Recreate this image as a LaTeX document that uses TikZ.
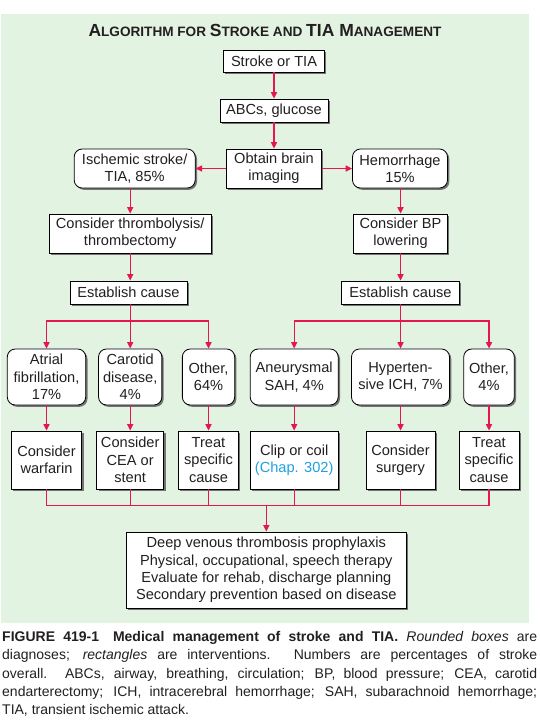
\documentclass[tikz,border=0pt]{standalone}
\usepackage{fontspec}
\setmainfont{Liberation Sans}
\newfontfamily\capfont[FakeStretch=1.0]{Liberation Sans}
\usetikzlibrary{arrows.meta,shadows}
\definecolor{bggreen}{RGB}{226,243,226}
\definecolor{arrred}{RGB}{230,22,80}
\definecolor{txt}{RGB}{35,31,32}
\definecolor{chapblue}{RGB}{30,160,225}
\newcommand\bxf{\fontsize{14.6}{17.4}\selectfont}
\newcommand\bigc[1]{{\fontsize{17.5}{19}\selectfont #1}}
\newcommand\smc[1]{{\fontsize{13.6}{15}\selectfont #1}}
\begin{document}
\begin{tikzpicture}[x=1pt,y=-1pt,
  box/.style={draw=black,line width=0.8pt,fill=white,align=center,inner sep=0pt,font=\bxf,text=txt,
    drop shadow={shadow xshift=1.8pt,shadow yshift=-1.8pt,fill=black!55,opacity=1}},
  rbox/.style={box,rounded corners=8pt},
  ln/.style={draw=arrred,line width=1.4pt},
  arr/.style={ln,-{Triangle[length=6.5pt,width=6pt]}},
]
\useasboundingbox (0,0) rectangle (539,726);
\fill[bggreen] (1,14) rectangle (529,623);

\node[font=\bfseries,text=txt,anchor=base] (title) at (265,36.5)
  {\bigc{A}\smc{LGORITHM FOR }\bigc{S}\smc{TROKE AND }\bigc{TIA M}\smc{ANAGEMENT}};

\node[box,minimum width=101pt,minimum height=22pt] (stroke) at (274,61) {Stroke or TIA};
\node[box,minimum width=108pt,minimum height=23pt] (abc) at (274,110.5) {ABCs, glucose};
\node[box,minimum width=95pt,minimum height=39pt] (img) at (274,168.5) {Obtain brain\\imaging};
\node[rbox,minimum width=121pt,minimum height=39pt] (isch) at (134.7,168.5) {Ischemic stroke/\\TIA, 85\%};
\node[rbox,minimum width=95pt,minimum height=39pt] (hem) at (400,168.5) {Hemorrhage\\15\%};
\node[box,minimum width=162pt,minimum height=39pt] (thr) at (130.2,233.5) {Consider thrombolysis/\\thrombectomy};
\node[box,minimum width=94pt,minimum height=39pt] (bp) at (400.5,233.5) {Consider BP\\lowering};
\node[box,minimum width=117pt,minimum height=23pt] (estL) at (128.4,292.5) {Establish cause};
\node[box,minimum width=118pt,minimum height=23pt] (estR) at (400.5,292.5) {Establish cause};

\node[rbox,minimum width=78.4pt,minimum height=56pt] (atrial) at (46.5,377) {Atrial\\fibrillation,\\17\%};
\node[rbox,minimum width=63.3pt,minimum height=56pt] (carotid) at (130.2,377) {Carotid\\disease,\\4\%};
\node[rbox,minimum width=52.3pt,minimum height=56pt] (oth1) at (208.5,377) {Other,\\64\%};
\node[rbox,minimum width=88pt,minimum height=56pt] (aneu) at (294.2,377) {Aneurysmal\\SAH, 4\%};
\node[rbox,minimum width=98pt,minimum height=56pt] (hyp) at (400.5,377) {Hyperten-\\sive ICH, 7\%};
\node[rbox,minimum width=50.6pt,minimum height=56pt] (oth2) at (489,377) {Other,\\4\%};

\node[box,minimum width=70.5pt,minimum height=58pt] (warf) at (46.5,460) {Consider\\warfarin};
\node[box,minimum width=67pt,minimum height=58pt] (cea) at (130.2,460) {Consider\\CEA or\\stent};
\node[box,minimum width=60.2pt,minimum height=58pt] (trt1) at (208.5,460) {Treat\\specific\\cause};
\node[box,minimum width=87.4pt,minimum height=58pt] (clip) at (294.2,460) {Clip or coil\\\textcolor{chapblue}{(Chap. 302)}};
\node[box,minimum width=68.8pt,minimum height=58pt] (surg) at (400.5,460) {Consider\\surgery};
\node[box,minimum width=60.2pt,minimum height=58pt] (trt2) at (489,460) {Treat\\specific\\cause};

\node[box,minimum width=279.4pt,minimum height=76pt] (final) at (266.3,570)
  {Deep venous thrombosis prophylaxis\\Physical, occupational, speech therapy\\Evaluate for rehab, discharge planning\\Secondary prevention based on disease};

\draw[arr] (stroke) -- (abc);
\draw[arr] (abc) -- (img);
\draw[arr] (img) -- (isch);
\draw[arr] (img) -- (hem);
\draw[arr] (isch.south -| thr.north) -- (thr.north);
\draw[arr] (hem.south -| bp.north) -- (bp.north);
\draw[arr] (thr.south) -- (thr.south |- estL.north);
\draw[arr] (bp.south) -- (bp.south |- estR.north);

\coordinate (bL) at (130.2,321);
\coordinate (bR) at (400.5,321);
\draw[ln] (thr.south |- estL.south) -- (bL);
\draw[ln] (estR.south) -- (bR);
\draw[arr] (bL) -| (atrial.north);
\draw[arr] (bL) -- (carotid.north);
\draw[arr] (bL) -| (oth1.north);
\draw[arr] (bR) -| (aneu.north);
\draw[arr] (bR) -- (hyp.north);
\draw[arr] (bR) -| (oth2.north);

\draw[arr] (atrial) -- (warf);
\draw[arr] (carotid) -- (cea);
\draw[arr] (oth1) -- (trt1);
\draw[arr] (aneu) -- (clip);
\draw[arr] (hyp) -- (surg);
\draw[arr] (oth2) -- (trt2);

\coordinate (m) at (266.3,505.7);
\draw[ln] (warf.south) |- (m) -| (trt2.south);
\draw[ln] (cea.south) -- (cea.south |- m);
\draw[ln] (trt1.south) -- (trt1.south |- m);
\draw[ln] (clip.south) -- (clip.south |- m);
\draw[ln] (surg.south) -- (surg.south |- m);
\draw[arr] (m) -- (final.north);

\node[anchor=north west,inner sep=0pt,text width=535pt,align=justify,text=txt,
  font=\capfont\fontsize{14}{18.4}\selectfont] (cap) at (2,631)
  {\textbf{FIGURE 419-1\quad Medical management of stroke and TIA.} \textit{Rounded boxes} are\linebreak
   diagnoses; \textit{rectangles} are interventions. Numbers are percentages of stroke\linebreak
   overall. ABCs, airway, breathing, circulation; BP, blood pressure; CEA, carotid\linebreak
   endarterectomy; ICH, intracerebral hemorrhage; SAH, subarachnoid hemorrhage;\linebreak
   TIA, transient ischemic attack.\par};
\end{tikzpicture}
\end{document}
